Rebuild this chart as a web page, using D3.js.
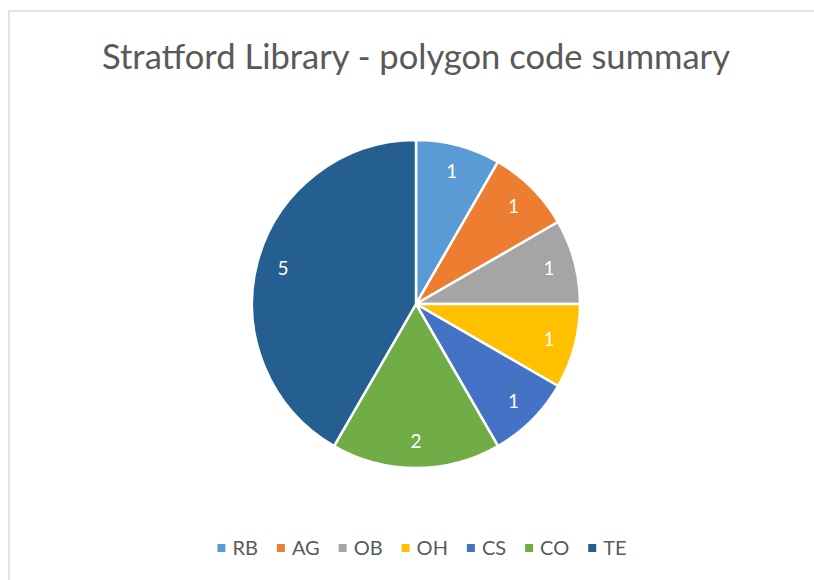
<!DOCTYPE html>
<html>
<head>
<meta charset="utf-8">
<script src="https://cdn.jsdelivr.net/npm/d3@7"></script>
<style>
	body { margin: 0; background: #fff; }
	svg { display: block; }
</style>
</head>
<body>
<div id="chart"></div>
<script>
const codes = ["RB", "AG", "OB", "OH", "CS", "CO", "TE"];
const counts = [1, 1, 1, 1, 1, 2, 5];
const colors = ["#5B9BD5", "#ED7D31", "#A5A5A5", "#FFC000", "#4472C4", "#70AD47", "#255E91"];
const title = "Stratford Library - polygon code summary";

const width = 814;
const height = 580;
const font = "Lato, 'Open Sans', sans-serif";

const svg = d3
	.select("#chart")
	.append("svg")
	.attr("width", width)
	.attr("height", height);

// chart frame (only top and left edges are visible)
svg
	.append("rect")
	.attr("x", 9)
	.attr("y", 11)
	.attr("width", width + 20)
	.attr("height", height + 20)
	.attr("fill", "#fff")
	.attr("stroke", "#d9d9d9")
	.attr("stroke-width", 1.5);

svg
	.append("text")
	.attr("x", 416)
	.attr("y", 69)
	.attr("text-anchor", "middle")
	.attr("font-family", font)
	.attr("font-size", 34)
	.attr("fill", "#595959")
	.attr("textLength", 628)
	.attr("lengthAdjust", "spacingAndGlyphs")
	.text(title);

const data = codes.map((c, i) => ({ code: c, value: counts[i], color: colors[i] }));

const radius = 164;
const cx = 416;
const cy = 304;

const pie = d3
	.pie()
	.sort(null)
	.value(d => d.value);
const arc = d3.arc().innerRadius(0).outerRadius(radius);
const labelArc = d3.arc().innerRadius(radius * 0.84).outerRadius(radius * 0.84);

const g = svg.append("g").attr("transform", `translate(${cx},${cy})`);

const slices = pie(data);

g.selectAll("path")
	.data(slices)
	.join("path")
	.attr("d", arc)
	.attr("fill", d => d.data.color)
	.attr("stroke", "#fff")
	.attr("stroke-width", 2.5);

g.selectAll("text")
	.data(slices)
	.join("text")
	.attr("transform", d => `translate(${labelArc.centroid(d)})`)
	.attr("text-anchor", "middle")
	.attr("dy", "0.35em")
	.attr("font-family", font)
	.attr("font-size", 19)
	.attr("fill", "#fff")
	.text(d => d.data.value);

// legend, centred under the pie
const legend = svg.append("g").attr("transform", "translate(0,548)");
const items = legend
	.selectAll("g")
	.data(data)
	.join("g");

items
	.append("rect")
	.attr("y", -4)
	.attr("width", 8)
	.attr("height", 8)
	.attr("fill", d => d.color);

items
	.append("text")
	.attr("x", 15)
	.attr("dy", "0.35em")
	.attr("font-family", font)
	.attr("font-size", 20)
	.attr("fill", "#595959")
	.text(d => d.code);

let x = 0;
const gap = 19;
items.each(function () {
	const w = 15 + d3.select(this).select("text").node().getComputedTextLength();
	d3.select(this).attr("transform", `translate(${x},0)`);
	x += w + gap;
});
const total = x - gap;
legend.attr("transform", `translate(${(212 + 632 - total) / 2},548)`);
</script>
</body>
</html>
